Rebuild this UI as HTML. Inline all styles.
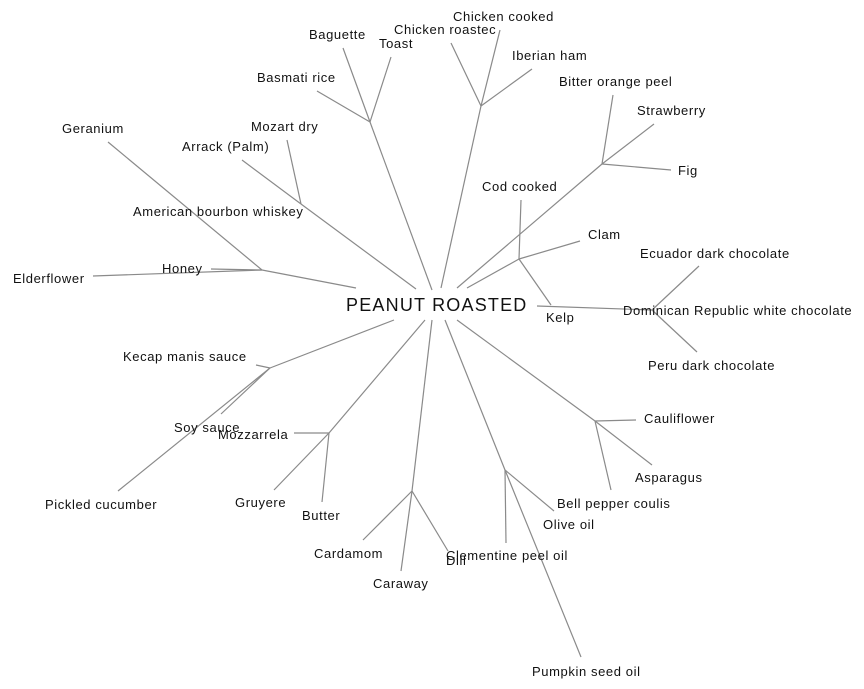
<!DOCTYPE html>
<html><head><meta charset="utf-8"><style>
html,body{margin:0;padding:0;background:#fff;}
svg{display:block;}
text{font-family:"Liberation Sans",Arial,sans-serif;font-size:13px;fill:#111;letter-spacing:0.6px;}
</style></head><body>
<svg width="864" height="689" viewBox="0 0 864 689" xmlns="http://www.w3.org/2000/svg">
<g stroke="#8a8a8a" stroke-width="1.2" fill="none">
<line x1="343" y1="48" x2="370" y2="122"/><line x1="391" y1="57" x2="370" y2="122"/><line x1="317" y1="91" x2="370" y2="122"/><line x1="370" y1="122" x2="432" y2="290"/>
<line x1="108" y1="142" x2="262" y2="270"/><line x1="211" y1="269" x2="262" y2="270"/><line x1="93" y1="276" x2="262" y2="270"/><line x1="262" y1="270" x2="356" y2="288"/>
<line x1="242" y1="160" x2="301" y2="204"/><line x1="287" y1="140" x2="301" y2="204"/><line x1="301" y1="204" x2="416" y2="289"/>
<line x1="451" y1="43" x2="481" y2="106"/><line x1="500" y1="30" x2="481" y2="106"/><line x1="532" y1="69" x2="481" y2="106"/><line x1="481" y1="106" x2="441" y2="288"/>
<line x1="613" y1="95" x2="602" y2="164"/><line x1="654" y1="124" x2="602" y2="164"/><line x1="671" y1="170" x2="602" y2="164"/><line x1="602" y1="164" x2="457" y2="288"/>
<line x1="521" y1="200" x2="519" y2="259"/><line x1="580" y1="241" x2="519" y2="259"/><line x1="551" y1="305" x2="519" y2="259"/><line x1="519" y1="259" x2="467" y2="288"/>
<line x1="537" y1="306" x2="652" y2="310"/><line x1="699" y1="266" x2="652" y2="310"/><line x1="697" y1="352" x2="652" y2="310"/>
<line x1="256" y1="365" x2="270" y2="368"/><line x1="221" y1="414" x2="270" y2="368"/><line x1="118" y1="491" x2="270" y2="368"/><line x1="270" y1="368" x2="394" y2="320"/>
<line x1="294" y1="433" x2="329" y2="433"/><line x1="274" y1="490" x2="329" y2="433"/><line x1="322" y1="502" x2="329" y2="433"/><line x1="329" y1="433" x2="425" y2="320"/>
<line x1="363" y1="540" x2="412" y2="491"/><line x1="401" y1="571" x2="412" y2="491"/><line x1="448" y1="551" x2="412" y2="491"/><line x1="412" y1="491" x2="432" y2="320"/>
<line x1="506" y1="543" x2="505" y2="470"/><line x1="554" y1="511" x2="505" y2="470"/><line x1="581" y1="657" x2="505" y2="470"/><line x1="505" y1="470" x2="445" y2="320"/>
<line x1="636" y1="420" x2="595" y2="421"/><line x1="652" y1="465" x2="595" y2="421"/><line x1="611" y1="490" x2="595" y2="421"/><line x1="595" y1="421" x2="457" y2="320"/>
</g>
<text x="346" y="311" style="font-size:18px;letter-spacing:1.2px">PEANUT ROASTED</text>
<text x="453" y="21">Chicken cooked</text>
<text x="394" y="34">Chicken roastec</text>
<text x="309" y="39">Baguette</text>
<text x="379" y="48">Toast</text>
<text x="512" y="60">Iberian ham</text>
<text x="559" y="86">Bitter orange peel</text>
<text x="257" y="82">Basmati rice</text>
<text x="637" y="115">Strawberry</text>
<text x="62" y="133">Geranium</text>
<text x="251" y="131">Mozart dry</text>
<text x="182" y="151">Arrack (Palm)</text>
<text x="678" y="175">Fig</text>
<text x="482" y="191">Cod cooked</text>
<text x="133" y="216">American bourbon whiskey</text>
<text x="588" y="239">Clam</text>
<text x="640" y="258">Ecuador dark chocolate</text>
<text x="162" y="273">Honey</text>
<text x="13" y="283">Elderflower</text>
<text x="623" y="315">Dominican Republic white chocolate</text>
<text x="546" y="322">Kelp</text>
<text x="123" y="361">Kecap manis sauce</text>
<text x="648" y="370">Peru dark chocolate</text>
<text x="644" y="423">Cauliflower</text>
<text x="174" y="432">Soy sauce</text>
<text x="218" y="439">Mozzarrela</text>
<text x="635" y="482">Asparagus</text>
<text x="45" y="509">Pickled cucumber</text>
<text x="235" y="507">Gruyere</text>
<text x="557" y="508">Bell pepper coulis</text>
<text x="302" y="520">Butter</text>
<text x="543" y="529">Olive oil</text>
<text x="314" y="558">Cardamom</text>
<text x="446" y="560">Clementine peel oil</text>
<text x="446" y="565">Dill</text>
<text x="373" y="588">Caraway</text>
<text x="532" y="676">Pumpkin seed oil</text>
</svg>
</body></html>
